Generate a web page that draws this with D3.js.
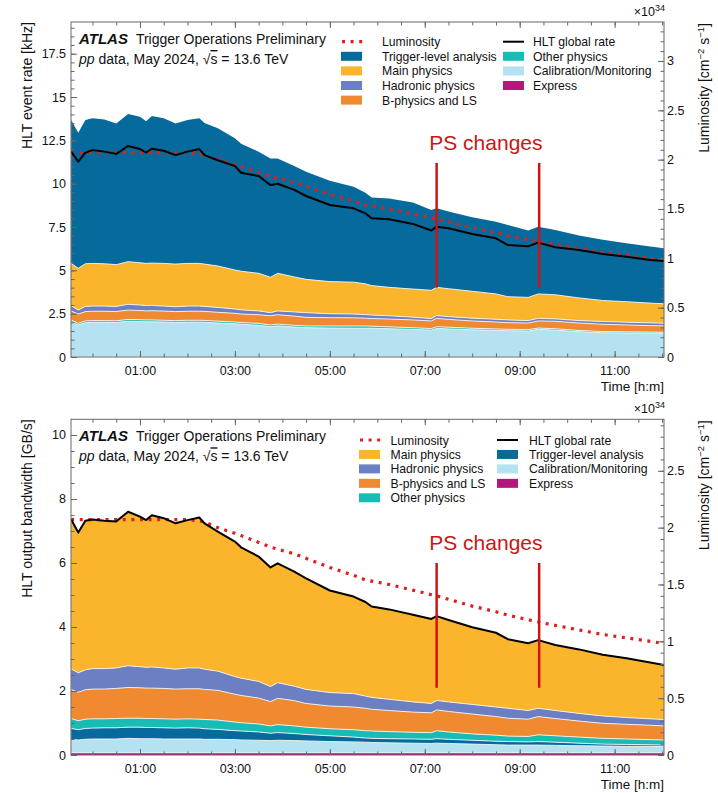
<!DOCTYPE html>
<html>
<head>
<meta charset="utf-8">
<script src="https://cdn.jsdelivr.net/npm/d3@7"></script>
<style>
  body { margin: 0; background: #fff; }
  svg text { font-family: "Liberation Sans", Arial, Helvetica, sans-serif; fill: #111; }
</style>
</head>
<body>
<svg id="chart" width="718" height="793"></svg>
<script>
// Time of day in hours (negative = before midnight)
const hours = [-0.45,-0.3,-0.15,0,0.25,0.5,0.75,1.0,1.13,1.25,1.5,1.75,2.0,2.25,2.36,2.64,3.0,3.13,3.5,3.75,3.9,4.25,4.5,5.0,5.5,5.75,5.88,6.25,6.75,7.14,7.25,7.5,8.0,8.5,8.75,9.18,9.39,9.75,10.25,10.75,11.25,11.75,12.04];

// Instantaneous luminosity [1e34 cm^-2 s^-1]
const lumi = [2.07,2.07,2.07,2.07,2.07,2.07,2.07,2.07,2.07,2.07,2.07,2.07,2.07,2.06,2.05,2.00,1.95,1.93,1.87,1.83,1.81,1.77,1.73,1.65,1.58,1.54,1.53,1.50,1.45,1.41,1.40,1.37,1.31,1.26,1.23,1.19,1.17,1.14,1.10,1.06,1.03,1.00,0.98];

// HLT stream rates [kHz]
const rateExpress = [0.03,0.03,0.03,0.03,0.03,0.03,0.03,0.03,0.03,0.03,0.03,0.03,0.03,0.03,0.03,0.03,0.03,0.03,0.03,0.03,0.03,0.03,0.03,0.03,0.03,0.03,0.03,0.03,0.03,0.03,0.03,0.03,0.03,0.03,0.03,0.03,0.03,0.03,0.03,0.03,0.03,0.03,0.03];
const rateCalib = [2.01,1.82,1.95,1.97,1.97,1.96,2.03,2.01,2.00,2.00,1.99,1.97,1.98,1.98,1.97,1.93,1.89,1.86,1.80,1.72,1.77,1.70,1.66,1.64,1.63,1.63,1.63,1.60,1.56,1.52,1.62,1.59,1.54,1.51,1.49,1.47,1.57,1.52,1.43,1.37,1.36,1.35,1.34];
const rateOther = [0.10,0.09,0.10,0.10,0.10,0.10,0.11,0.11,0.11,0.11,0.10,0.10,0.11,0.11,0.11,0.11,0.10,0.10,0.11,0.10,0.10,0.10,0.10,0.12,0.13,0.13,0.12,0.11,0.10,0.09,0.10,0.10,0.09,0.08,0.08,0.08,0.07,0.08,0.07,0.07,0.06,0.06,0.06];
const rateBphys = [0.51,0.54,0.54,0.54,0.54,0.53,0.54,0.53,0.52,0.53,0.53,0.52,0.52,0.52,0.52,0.51,0.50,0.49,0.50,0.53,0.54,0.53,0.50,0.48,0.47,0.45,0.44,0.45,0.45,0.44,0.48,0.45,0.42,0.40,0.38,0.38,0.41,0.43,0.43,0.42,0.40,0.37,0.37];
const rateHadronic = [0.31,0.23,0.30,0.30,0.30,0.30,0.33,0.32,0.31,0.31,0.29,0.28,0.30,0.30,0.29,0.28,0.25,0.24,0.22,0.18,0.22,0.24,0.27,0.23,0.22,0.21,0.20,0.19,0.16,0.14,0.16,0.16,0.16,0.16,0.16,0.14,0.15,0.14,0.14,0.16,0.16,0.16,0.15];
const rateMain = [2.44,2.41,2.46,2.46,2.44,2.41,2.46,2.44,2.43,2.44,2.46,2.46,2.46,2.46,2.44,2.39,2.25,2.23,2.17,2.04,2.17,2.02,1.92,1.85,1.84,1.77,1.70,1.64,1.62,1.63,1.63,1.61,1.55,1.46,1.34,1.34,1.41,1.39,1.31,1.21,1.18,1.14,1.12];
const rateTLA = [8.28,7.82,8.30,8.37,8.33,8.15,8.52,8.43,8.20,8.48,8.37,8.12,8.28,8.37,8.14,7.95,7.60,7.35,7.02,6.86,6.62,6.40,6.21,5.82,5.51,5.26,5.09,5.13,4.99,4.63,4.56,4.45,4.27,4.17,4.14,3.86,3.88,3.74,3.60,3.50,3.38,3.27,3.21];
const rateGlobal = [11.85,11.27,11.79,11.94,11.85,11.72,12.18,12.0,11.8,12.02,11.9,11.65,11.85,12.0,11.65,11.35,11.02,10.63,10.44,9.92,10.0,9.64,9.29,8.77,8.58,8.29,8.0,7.95,7.68,7.3,7.52,7.43,7.1,6.85,6.46,6.39,6.6,6.33,6.17,5.94,5.79,5.6,5.54];

// HLT output bandwidth per stream [GB/s]
const bwExpress = [0.07,0.07,0.07,0.07,0.07,0.07,0.07,0.07,0.07,0.07,0.07,0.07,0.07,0.07,0.07,0.07,0.07,0.07,0.07,0.07,0.07,0.07,0.07,0.07,0.07,0.07,0.07,0.07,0.07,0.07,0.07,0.07,0.07,0.07,0.07,0.07,0.07,0.07,0.07,0.07,0.07,0.07,0.07];
const bwCalib = [0.42,0.40,0.42,0.43,0.43,0.43,0.45,0.44,0.44,0.44,0.43,0.43,0.43,0.43,0.42,0.42,0.41,0.40,0.39,0.38,0.39,0.38,0.37,0.35,0.34,0.33,0.32,0.31,0.30,0.29,0.30,0.29,0.27,0.25,0.24,0.24,0.24,0.23,0.22,0.21,0.20,0.20,0.19];
const bwTLA = [0.34,0.32,0.34,0.34,0.35,0.35,0.35,0.36,0.35,0.35,0.35,0.34,0.35,0.34,0.33,0.31,0.28,0.28,0.26,0.23,0.24,0.22,0.20,0.18,0.15,0.13,0.13,0.13,0.13,0.13,0.14,0.13,0.12,0.11,0.11,0.10,0.11,0.10,0.08,0.06,0.06,0.05,0.05];
const bwOther = [0.31,0.28,0.29,0.29,0.28,0.29,0.28,0.28,0.28,0.28,0.28,0.28,0.28,0.28,0.29,0.29,0.27,0.26,0.25,0.23,0.25,0.24,0.23,0.22,0.23,0.23,0.23,0.22,0.21,0.21,0.25,0.23,0.20,0.19,0.17,0.17,0.21,0.20,0.19,0.18,0.17,0.16,0.16];
const bwBphys = [0.91,0.89,0.92,0.93,0.93,0.94,0.96,0.95,0.95,0.95,0.95,0.94,0.94,0.95,0.94,0.93,0.87,0.85,0.81,0.76,0.82,0.79,0.74,0.71,0.71,0.70,0.68,0.66,0.63,0.62,0.65,0.64,0.62,0.58,0.56,0.54,0.57,0.54,0.50,0.47,0.46,0.45,0.44];
const bwHadronic = [0.64,0.61,0.62,0.64,0.64,0.64,0.68,0.66,0.65,0.66,0.64,0.62,0.65,0.65,0.63,0.60,0.55,0.54,0.52,0.47,0.49,0.45,0.44,0.42,0.42,0.38,0.37,0.35,0.32,0.29,0.29,0.30,0.30,0.30,0.31,0.27,0.26,0.25,0.24,0.23,0.21,0.20,0.20];
const bwMain = [4.67,4.38,4.66,4.66,4.62,4.58,4.81,4.69,4.60,4.74,4.68,4.56,4.62,4.70,4.56,4.36,4.22,4.09,3.90,3.72,3.73,3.58,3.47,3.19,3.03,2.94,2.84,2.81,2.72,2.64,2.64,2.56,2.41,2.32,2.16,2.10,2.13,2.05,2.00,1.91,1.85,1.76,1.70];
const bwGlobal = [7.36,6.95,7.32,7.36,7.32,7.30,7.60,7.45,7.34,7.49,7.40,7.24,7.34,7.42,7.24,6.98,6.67,6.49,6.20,5.86,5.99,5.73,5.52,5.14,4.95,4.78,4.64,4.55,4.38,4.25,4.34,4.22,3.99,3.82,3.62,3.49,3.59,3.44,3.30,3.13,3.02,2.89,2.81];

// Prescale change times [h]
const psTimes = [7.25, 9.41];

// Axis ticks
const timeLabelTicks = [1, 3, 5, 7, 9, 11];
const timeMinorTicks = d3.range(0, 12.01, 0.5);
const rateTicks = [0, 2.5, 5, 7.5, 10, 12.5, 15, 17.5];
const bwTicks = [0, 2, 4, 6, 8, 10];
const lumiTicksTop = [0, 0.5, 1, 1.5, 2, 2.5, 3];
const lumiTicksBottom = [0, 0.5, 1, 1.5, 2, 2.5];

// Stream names and colours
const streamColor = {
  tla: "#076a9d",
  main: "#fbb52c",
  hadronic: "#6b7fc2",
  bphys: "#f08a30",
  other: "#17bdb4",
  calib: "#b4e2f1",
  express: "#b3177b"
};
const streamName = {
  tla: "Trigger-level analysis",
  main: "Main physics",
  hadronic: "Hadronic physics",
  bphys: "B-physics and LS",
  other: "Other physics",
  calib: "Calibration/Monitoring",
  express: "Express"
};
const lumiColor = "#dd1f1f";
const psColor = "#cc1414";

const svg = d3.select("#chart");
const X0 = 71, X1 = 664;
const x = d3.scaleLinear().domain([-0.453, 12.04]).range([X0, X1]);
const fmtTime = h => String(h).padStart(2, "0") + ":00";

function drawPanel(p) {
  const g = svg.append("g");
  const y = d3.scaleLinear().domain([0, p.yMax]).range([p.bottom, p.top]);
  const yL = d3.scaleLinear().domain([0, p.lumiMax]).range([p.bottom, p.top]);

  const clipId = "clip" + p.id;
  svg.append("clipPath").attr("id", clipId)
    .append("rect").attr("x", X0).attr("y", p.top).attr("width", X1 - X0).attr("height", p.bottom - p.top);

  const rows = hours.map((h, i) => {
    const r = { h };
    p.order.forEach(k => { r[k] = p.series[k][i]; });
    return r;
  });
  const stacked = d3.stack().keys(p.order)(rows);
  const area = d3.area().x(d => x(d.data.h)).y0(d => y(d[0])).y1(d => y(d[1]));
  const topLine = d3.line().x(d => x(d.data.h)).y(d => y(d[1]));

  const plot = g.append("g").attr("clip-path", `url(#${clipId})`);
  plot.selectAll("path.layer").data(stacked).join("path")
    .attr("class", "layer")
    .attr("fill", d => streamColor[d.key])
    .attr("d", area);
  plot.selectAll("path.sep").data(stacked.slice(0, -1)).join("path")
    .attr("class", "sep")
    .attr("fill", "none")
    .attr("stroke", "#f4f4f4")
    .attr("stroke-width", 0.9)
    .attr("d", topLine);

  // luminosity (right axis)
  plot.append("path")
    .datum(hours.map((h, i) => [h, lumi[i]]))
    .attr("fill", "none")
    .attr("stroke", lumiColor)
    .attr("stroke-width", 3.2)
    .attr("stroke-dasharray", "3 5.6")
    .attr("d", d3.line().x(d => x(d[0])).y(d => yL(d[1])));

  // HLT global rate
  plot.append("path")
    .datum(hours.map((h, i) => [h, p.global[i]]))
    .attr("fill", "none")
    .attr("stroke", "#000")
    .attr("stroke-width", 2)
    .attr("stroke-linejoin", "round")
    .attr("d", d3.line().x(d => x(d[0])).y(d => y(d[1])));

  // prescale change markers
  plot.selectAll("line.ps").data(psTimes).join("line")
    .attr("class", "ps")
    .attr("x1", d => x(d)).attr("x2", d => x(d))
    .attr("y1", y(p.psRange[0])).attr("y2", y(p.psRange[1]))
    .attr("stroke", psColor).attr("stroke-width", 2.5);
  g.append("text")
    .attr("x", x(d3.mean(psTimes)) - 2)
    .attr("y", y(p.psTextY))
    .attr("text-anchor", "middle")
    .style("font-size", "21px")
    .style("fill", psColor)
    .text("PS changes");

  // frame
  g.append("rect")
    .attr("x", X0).attr("y", p.top)
    .attr("width", X1 - X0).attr("height", p.bottom - p.top)
    .attr("fill", "none").attr("stroke", "#666").attr("stroke-width", 1);

  const styleAxis = sel => {
    sel.select(".domain").remove();
    sel.selectAll(".tick line").attr("stroke", "#666");
    sel.selectAll(".tick text").style("font-size", "12.5px").style("fill", "#111")
      .style("font-family", '"Liberation Sans", Arial, sans-serif');
  };

  // x axes (bottom with labels, top mirrored)
  g.append("g").attr("transform", `translate(0,${p.bottom})`)
    .call(d3.axisBottom(x).tickValues(timeMinorTicks).tickSize(-3.5).tickFormat(""))
    .call(styleAxis);
  g.append("g").attr("transform", `translate(0,${p.bottom})`)
    .call(d3.axisBottom(x).tickValues(timeLabelTicks).tickSize(-6).tickPadding(9).tickFormat(fmtTime))
    .call(styleAxis);
  g.append("g").attr("transform", `translate(0,${p.top})`)
    .call(d3.axisTop(x).tickValues(timeMinorTicks).tickSize(-3.5).tickFormat(""))
    .call(styleAxis);
  g.append("g").attr("transform", `translate(0,${p.top})`)
    .call(d3.axisTop(x).tickValues(timeLabelTicks).tickSize(-6).tickFormat(""))
    .call(styleAxis);

  // left axis
  g.append("g").attr("transform", `translate(${X0},0)`)
    .call(d3.axisLeft(y).tickValues(d3.range(0, p.yMax, 0.5)).tickSize(-3.5).tickFormat(""))
    .call(styleAxis);
  g.append("g").attr("transform", `translate(${X0},0)`)
    .call(d3.axisLeft(y).tickValues(p.yTicks).tickSize(-6).tickPadding(5).tickFormat(d => String(d)))
    .call(styleAxis);

  // right (luminosity) axis
  g.append("g").attr("transform", `translate(${X1},0)`)
    .call(d3.axisRight(yL).tickValues(d3.range(0, p.lumiMax, 0.1)).tickSize(-3.5).tickFormat(""))
    .call(styleAxis);
  g.append("g").attr("transform", `translate(${X1},0)`)
    .call(d3.axisRight(yL).tickValues(p.lumiTicks).tickSize(-6).tickPadding(3).tickFormat(d => String(d)))
    .call(styleAxis);

  // axis titles
  g.append("text")
    .attr("transform", `translate(32,${p.top}) rotate(-90)`)
    .attr("text-anchor", "end")
    .style("font-size", "14px")
    .text(p.yLabel);

  const lt = g.append("text")
    .attr("transform", `translate(709,${p.top + 1}) rotate(-90)`)
    .attr("text-anchor", "end")
    .style("font-size", "14px");
  lt.append("tspan").text("Luminosity [cm");
  lt.append("tspan").attr("dy", -5).style("font-size", "9.5px").text("\u22122");
  lt.append("tspan").attr("dy", 5).text(" s");
  lt.append("tspan").attr("dy", -5).style("font-size", "9.5px").text("\u22121");
  lt.append("tspan").attr("dy", 5).text("]");

  const mult = g.append("text")
    .attr("x", X1 + 1).attr("y", p.top - 6)
    .attr("text-anchor", "end")
    .style("font-size", "12.5px");
  mult.append("tspan").text("\u00d710");
  mult.append("tspan").attr("dy", -5).style("font-size", "9px").text("34");

  g.append("text")
    .attr("x", X1).attr("y", p.bottom + 34)
    .attr("text-anchor", "end")
    .style("font-size", "13.5px")
    .text("Time [h:m]");

  // ATLAS label
  const t1 = g.append("text").attr("x", 79).attr("y", p.top + 22);
  t1.append("tspan").style("font-weight", "bold").style("font-style", "italic").style("font-size", "15px").text("ATLAS");
  t1.append("tspan").attr("dx", 8).style("font-size", "14px").text("Trigger Operations Preliminary");
  const t2 = g.append("text").attr("x", 79).attr("y", p.top + 42).style("font-size", "14px");
  t2.append("tspan").style("font-style", "italic").text("pp");
  t2.append("tspan").text(" data, May 2024,  \u221a");
  t2.append("tspan").style("text-decoration", "overline").text("s");
  t2.append("tspan").text(" = 13.6 TeV");

  // legend
  p.legend.forEach((col, ci) => {
    col.forEach((item, ri) => {
      const lx = p.legendX[ci], ty = p.legendY0 + ri * p.legendDY;
      if (item === "lumi") {
        g.append("line").attr("x1", lx + 1).attr("x2", lx + 22).attr("y1", ty).attr("y2", ty)
          .attr("stroke", lumiColor).attr("stroke-width", 3.2).attr("stroke-dasharray", "3 5.6");
      } else if (item === "global") {
        g.append("line").attr("x1", lx).attr("x2", lx + 21).attr("y1", ty).attr("y2", ty)
          .attr("stroke", "#000").attr("stroke-width", 2);
      } else {
        g.append("rect").attr("x", lx).attr("y", ty - 4.5).attr("width", 21).attr("height", 9)
          .attr("fill", streamColor[item]);
      }
      const label = item === "lumi" ? "Luminosity" : item === "global" ? "HLT global rate" : streamName[item];
      g.append("text").attr("x", lx + p.legendTextDX[ci]).attr("y", ty + 4.5)
        .style("font-size", "12.2px").text(label);
    });
  });
}

drawPanel({
  id: "rate", top: 22, bottom: 357, yMax: 19.33, lumiMax: 3.395,
  order: ["express", "calib", "other", "bphys", "hadronic", "main", "tla"],
  series: { express: rateExpress, calib: rateCalib, other: rateOther, bphys: rateBphys,
            hadronic: rateHadronic, main: rateMain, tla: rateTLA },
  global: rateGlobal,
  yTicks: rateTicks, lumiTicks: lumiTicksTop,
  yLabel: "HLT event rate [kHz]",
  psRange: [4.0, 11.2], psTextY: 11.94,
  legend: [["lumi", "tla", "main", "hadronic", "bphys"], ["global", "other", "calib", "express"]],
  legendX: [341, 503], legendTextDX: [41, 30], legendY0: 41.7, legendDY: 14.6
});

drawPanel({
  id: "bw", top: 419.3, bottom: 755, yMax: 10.49, lumiMax: 2.953,
  order: ["express", "calib", "tla", "other", "bphys", "hadronic", "main"],
  series: { express: bwExpress, calib: bwCalib, tla: bwTLA, other: bwOther, bphys: bwBphys,
            hadronic: bwHadronic, main: bwMain },
  global: bwGlobal,
  yTicks: bwTicks, lumiTicks: lumiTicksBottom,
  yLabel: "HLT output bandwidth [GB/s]",
  psRange: [2.1, 6.0], psTextY: 6.4,
  legend: [["lumi", "main", "hadronic", "bphys", "other"], ["global", "tla", "calib", "express"]],
  legendX: [359, 497], legendTextDX: [31.5, 32], legendY0: 440, legendDY: 14.45
});
</script>
</body>
</html>
